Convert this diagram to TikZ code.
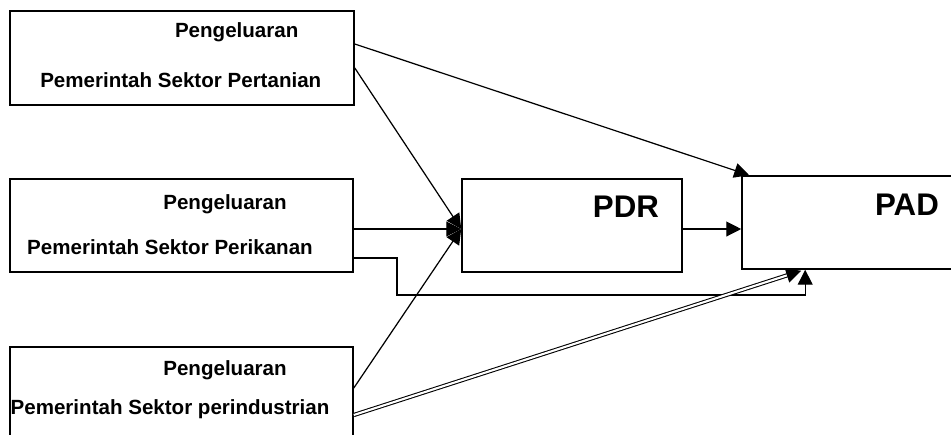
\documentclass[tikz,border=0pt]{standalone}
\usepackage{fontspec}
\setmainfont{Liberation Sans}
\usetikzlibrary{arrows.meta}
\usetikzlibrary{calc}

\tikzset{
  kotak/.style={draw,line width=0.9pt,rectangle,inner sep=0pt},
  teks/.style={anchor=base,inner sep=0pt,font=\fontsize{11.7}{13}\selectfont\bfseries},
  besar/.style={anchor=base,inner sep=0pt,font=\fontsize{17.8}{20}\selectfont\bfseries},
  panah/.style={line width=0.7pt,-{Triangle[length=8.5pt,width=8.5pt]}}
}

\begin{document}
\begin{tikzpicture}[x=0.02cm,y=-0.02cm]
\clip (0,0) rectangle (951,434);
\useasboundingbox (0,0) rectangle (951,434);

% kotak-kotak
\node[kotak,minimum width=344*0.02cm,minimum height=94*0.02cm] (tani) at (182,58) {};
\node[kotak,minimum width=343*0.02cm,minimum height=93*0.02cm] (ikan) at (181.5,225.5) {};
\node[kotak,minimum width=343*0.02cm,minimum height=93*0.02cm] (industri) at (181.5,393.5) {};
\node[kotak,minimum width=220*0.02cm,minimum height=93*0.02cm] (pdr) at (572,225.5) {};
\node[kotak,minimum width=300*0.02cm,minimum height=93*0.02cm] (pad) at (892,222.5) {};

% tulisan
\node[teks] (taniA) at (236.7,37) {Pengeluaran};
\node[teks] (taniB) at (180.8,87) {Pemerintah Sektor Pertanian};
\node[teks] (ikanA) at (225,209) {Pengeluaran};
\node[teks] (ikanB) at (170,254) {Pemerintah Sektor Perikanan};
\node[teks] (industriA) at (225,375) {Pengeluaran};
\node[teks] (industriB) at (170,414) {Pemerintah Sektor perindustrian};
\node[besar] (pdrT) at (626,217) {PDR};
\node[besar] (padT) at (907,215) {PAD};

% titik bantu
\coordinate (pdrIn) at ($(pdr.west)+(0,3.5)$);
\coordinate (padTop) at ($(pad.north west)+(8,0)$);
\coordinate (padBawah) at ($(pad.south west)+(64,0)$);
\coordinate (padBawah2) at ($(pad.south west)+(60,1)$);
\coordinate (belok) at (397,295);

% panah
\draw[panah] ($(tani.east)+(0,-14)$) -- (padTop);
\draw[panah] ($(tani.east)+(0,10)$) -- (pdrIn);
\draw[panah] ($(ikan.east)+(0,3.5)$) -- (pdrIn);
\draw[panah] ($(industri.east)+(0,-5.5)$) -- (pdrIn);
\draw[panah] ($(ikan.east)+(0,32.5)$) -| (belok) -| (padBawah);
\draw[line width=0.6pt,double,double distance=1.2pt,-{Triangle[length=8.5pt,width=8.5pt]}] ($(industri.east)+(0,21.5)$) -- (padBawah2);
\draw[panah] (pdr.east |- pdrIn) -- (pad.west |- pdrIn);

\end{tikzpicture}
\end{document}
